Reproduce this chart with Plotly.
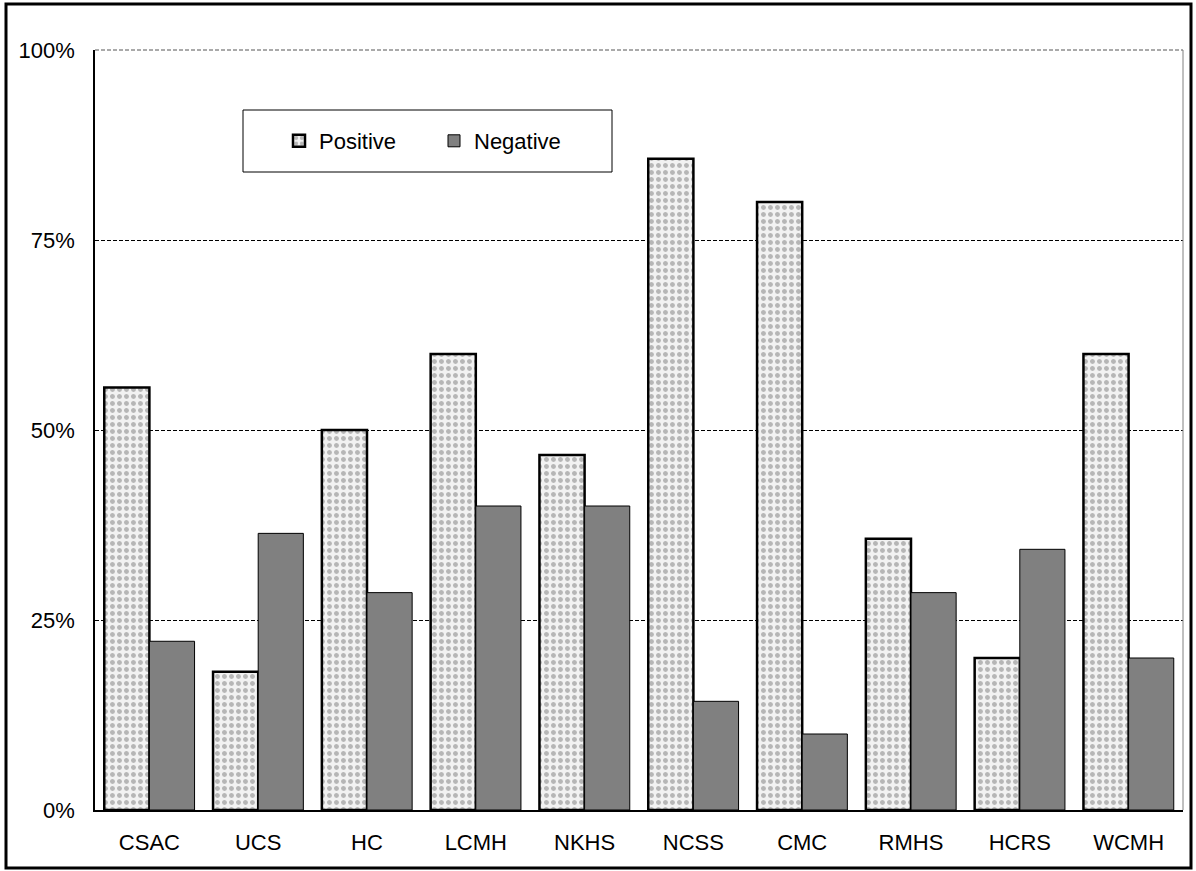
import plotly.graph_objects as go

categories = ["CSAC", "UCS", "HC", "LCMH", "NKHS", "NCSS", "CMC", "RMHS", "HCRS", "WCMH"]
positive = [55.6, 18.2, 50.0, 60.0, 46.7, 85.7, 80.0, 35.7, 20.0, 60.0]
negative = [22.2, 36.4, 28.6, 40.0, 40.0, 14.3, 10.0, 28.6, 34.3, 20.0]
y_ticks = [0, 25, 50, 75, 100]
y_tick_labels = ["0%", "25%", "50%", "75%", "100%"]

W, H = 1196, 871
L, R, T, B = 95, 13, 50, 61
pw, ph = W - L - R, H - T - B

def px(x):
    return (x - L) / pw

def py(y):
    return (H - B - y) / ph

FONT = "Liberation Sans, Arial, sans-serif"

fig = go.Figure()
fig.add_trace(go.Bar(
    name="Positive", x=categories, y=positive,
    marker=dict(
        color="#ededed",
        line=dict(color="black", width=2.5),
        pattern=dict(shape=".", fgcolor="#7a7a7a", bgcolor="#f2f2f2", size=7, solidity=0.4),
    ),
))
fig.add_trace(go.Bar(
    name="Negative", x=categories, y=negative,
    marker=dict(color="#808080", line=dict(color="black", width=1)),
))

fig.update_layout(
    width=W, height=H,
    margin=dict(l=L, r=R, t=T, b=B, autoexpand=False),
    paper_bgcolor="white", plot_bgcolor="white",
    barmode="group", bargap=0.17, bargroupgap=0,
    font=dict(family=FONT, size=22, color="black"),
    showlegend=True,
    legend=dict(
        orientation="h", x=px(279), y=py(141), xanchor="left", yanchor="middle",
        bgcolor="rgba(0,0,0,0)", borderwidth=0,
        entrywidth=110, entrywidthmode="pixels", itemwidth=30,
        font=dict(size=22, family=FONT),
    ),
    xaxis=dict(
        showline=True, linecolor="black", linewidth=1.5,
        ticks="", showgrid=False, ticklabelstandoff=12,
        tickfont=dict(size=22),
    ),
    yaxis=dict(
        range=[0, 100], tickvals=y_ticks, ticktext=y_tick_labels,
        showline=True, linecolor="black", linewidth=1.5,
        ticks="", ticklabelstandoff=14,
        showgrid=True, gridcolor="black", gridwidth=1, griddash="4px,2px",
        zeroline=False, tickfont=dict(size=22),
    ),
    shapes=[
        # plot area top edge (100% gridline)
        dict(type="line", xref="paper", yref="paper", x0=0, x1=1, y0=1, y1=1,
             line=dict(color="#555555", width=1, dash="4px,2px"), layer="below"),
        # plot area right edge
        dict(type="line", xref="paper", yref="paper", x0=1, x1=1, y0=0, y1=1,
             line=dict(color="#808080", width=1)),
        # legend box
        dict(type="rect", xref="paper", yref="paper",
             x0=px(243), x1=px(612), y0=py(172), y1=py(110),
             line=dict(color="black", width=1), fillcolor="rgba(0,0,0,0)", layer="below"),
        # outer chart border
        dict(type="rect", xref="paper", yref="paper",
             x0=px(6), x1=px(1191), y0=py(868), y1=py(4),
             line=dict(color="black", width=3), fillcolor="rgba(0,0,0,0)"),
    ],
)

fig.write_html(
    "out.html",
    config={"displayModeBar": False},
    post_script="document.body.style.margin='0';document.body.style.padding='0';",
)
